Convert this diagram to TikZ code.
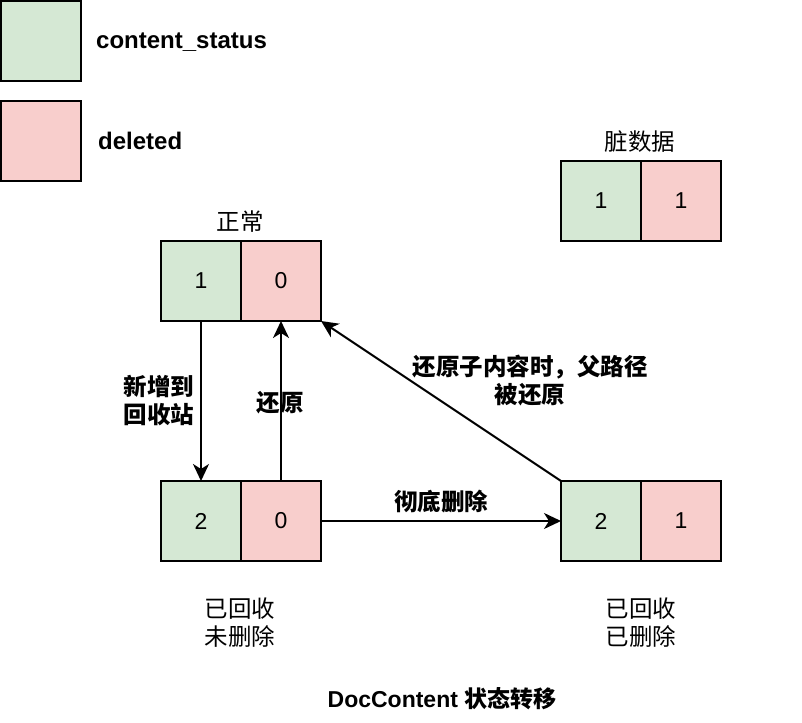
\documentclass[tikz,border=0pt]{standalone}
\usepackage{fontspec}
\setmainfont{Liberation Sans}
\newfontfamily\cjk{Noto Sans CJK SC}
\usetikzlibrary{arrows.meta}
\definecolor{gfill}{HTML}{D5E8D4}
\definecolor{rfill}{HTML}{F8CECC}
\begin{document}
\begin{tikzpicture}[x=1pt,y=-1pt,
  cell/.style={draw=black, line width=2pt, minimum width=80pt, minimum height=80pt,
    inner sep=0pt, outer sep=0pt, font=\fontsize{23}{27}\selectfont},
  gcell/.style={cell, fill=gfill},
  rcell/.style={cell, fill=rfill},
  arr/.style={line width=2pt, -{Stealth[length=17pt,width=16pt,inset=5pt]}},
  lbl/.style={font=\fontsize{23.5}{28}\selectfont\cjk, align=center, inner sep=0pt},
  blbl/.style={font=\fontsize{23.5}{28}\selectfont\cjk\bfseries, align=center, inner sep=0pt},
  legend/.style={font=\fontsize{24}{28}\selectfont\bfseries, anchor=west, inner sep=0pt}
]
\useasboundingbox (0,0) rectangle (802,722);
% legend
\node[gcell] (lg) at (41,41) {};
\node[rcell] (lr) at (41,141) {};
\node[legend] (lgt) at (96,42) {content\_status};
\node[legend] (lrt) at (98,141) {deleted};
% dirty data
\node[gcell] (dg) at (601,201) {1};
\node[rcell] (dr) at (681,201) {1};
\node[lbl] (dt) at (640,142) {脏数据};
% normal
\node[gcell] (ng) at (201,281) {1};
\node[rcell] (nr) at (281,281) {0};
\node[lbl] (nt) at (240,222) {正常};
% recycled, not deleted
\node[gcell] (rg) at (201,521) {2};
\node[rcell] (rr) at (281,521) {0};
\node[lbl] (rt) at (240,623) {已回收\\未删除};
% recycled, deleted
\node[gcell] (xg) at (601,521) {2};
\node[rcell] (xr) at (681,521) {1};
\node[lbl] (xt) at (641,623) {已回收\\已删除};
% arrows
\draw[arr] (ng.south) -- (rg.north);
\draw[arr] (rr.north) -- (nr.south);
\draw[arr] (rr.east) -- (xg.west);
\draw[arr] (xg.north west) -- (nr.south east);
% arrow labels
\node[blbl] (l1) at (159,401) {新增到\\回收站};
\node[blbl] (l2) at (280,403) {还原};
\node[blbl] (l3) at (441,502) {彻底删除};
\node[blbl] (l4) at (530,381) {还原子内容时，父路径\\被还原};
% title
\node[font=\fontsize{23}{27}\selectfont\bfseries, inner sep=0pt] (title) at (442,699) {DocContent {\cjk 状态转移}};
\end{tikzpicture}
\end{document}
